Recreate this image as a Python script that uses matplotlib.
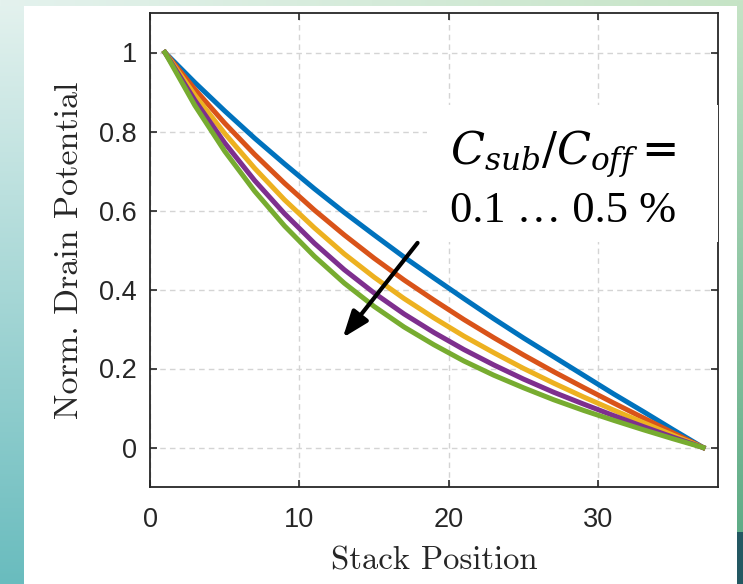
import numpy as np
import matplotlib
matplotlib.use("Agg")
import matplotlib.pyplot as plt
from matplotlib.patches import Rectangle
from matplotlib.ticker import FormatStrFormatter

stack_pos = [1, 3, 5, 7, 9, 11, 13, 15, 17, 19, 21, 23, 25, 27, 29, 31, 33, 35, 37]
# normalized drain potential, Csub/Coff = 0.1 ... 0.5 %
pot_01 = [1, 0.924, 0.852, 0.783, 0.718, 0.655, 0.595, 0.538, 0.482, 0.429,
          0.377, 0.326, 0.277, 0.230, 0.183, 0.136, 0.091, 0.045, 0]
pot_02 = [1, 0.907, 0.821, 0.742, 0.669, 0.601, 0.538, 0.479, 0.424, 0.373,
          0.324, 0.278, 0.234, 0.192, 0.152, 0.113, 0.075, 0.037, 0]
pot_03 = [1, 0.892, 0.795, 0.707, 0.627, 0.556, 0.490, 0.431, 0.377, 0.328,
          0.282, 0.240, 0.200, 0.163, 0.128, 0.095, 0.063, 0.031, 0]
pot_04 = [1, 0.879, 0.771, 0.676, 0.592, 0.517, 0.450, 0.391, 0.338, 0.291,
          0.248, 0.209, 0.173, 0.140, 0.110, 0.081, 0.053, 0.026, 0]
pot_05 = [1, 0.866, 0.750, 0.649, 0.561, 0.484, 0.416, 0.357, 0.305, 0.260,
          0.219, 0.183, 0.151, 0.121, 0.094, 0.069, 0.045, 0.022, 0]

series = [pot_01, pot_02, pot_03, pot_04, pot_05]
colors = ["#0072BD", "#D95319", "#EDB120", "#7E2F8E", "#77AC30"]

xticks = [0, 10, 20, 30]
yticks = [0, 0.2, 0.4, 0.6, 0.8, 1]

W, H = 743, 584
fig = plt.figure(figsize=(W / 100, H / 100), dpi=100)

# slide background: teal strip left, light strip top, green strip right
bg = np.ones((H, W, 3))
t = np.linspace(0, 1, H)[:, None]
left_top = np.array([228, 242, 238]) / 255
left_bot = np.array([105, 188, 190]) / 255
bg[:, :24] = (left_top * (1 - t) + left_bot * t)[:, None, :]
s = np.linspace(0, 1, W)[:, None]
bg[:6, :] = (np.array([228, 242, 238]) / 255 * (1 - s) + np.array([198, 228, 198]) / 255 * s)[None, :, :]
rt = np.linspace(0, 1, 532)[:, None]
bg[:532, 737:] = (np.array([198, 228, 198]) / 255 * (1 - rt) + np.array([95, 172, 135]) / 255 * rt)[:, None, :]
bg[532:, 737:] = np.array([35, 88, 98]) / 255
ax_bg = fig.add_axes([0, 0, 1, 1], zorder=-10)
ax_bg.imshow(bg, aspect="auto", extent=[0, 1, 0, 1])
ax_bg.axis("off")

ax = fig.add_axes([150 / W, (H - 487) / H, 568 / W, 474 / H])
for y, c in zip(series, colors):
    ax.plot(stack_pos, y, color=c, lw=3.6, zorder=3)

ax.annotate("", xy=(12.9, 0.278), xytext=(17.9, 0.518),
            arrowprops=dict(arrowstyle="-|>,head_length=0.8,head_width=0.3",
                            lw=3, color="k", mutation_scale=20,
                            shrinkA=0, shrinkB=0), zorder=4)

ax.set_xlim(0, 38)
ax.set_ylim(-0.1, 1.1)
ax.set_xticks(xticks)
ax.set_yticks(yticks)
ax.yaxis.set_major_formatter(FormatStrFormatter("%g"))
ax.grid(True, color="#d4d4d4", linestyle=(0, (4, 3)), linewidth=1.0)
ax.set_axisbelow(True)
for sp in ax.spines.values():
    sp.set_color("#262626")
    sp.set_linewidth(1.3)
ax.tick_params(direction="in", length=5, width=1.2, top=True, right=True,
               color="#262626", labelcolor="#262626", labelsize=19.5)
ax.tick_params(axis="x", pad=14.5)
ax.tick_params(axis="y", pad=9.4)
for lab in ax.get_xticklabels() + ax.get_yticklabels():
    lab.set_fontfamily("Liberation Sans")

ax.text(0.5, (487 - 570) / 474, "Stack Position", transform=ax.transAxes,
        ha="center", va="baseline", fontfamily="cmr10", fontsize=23.5,
        color="#262626")
ax.text((78 - 150) / 568, 0.5, "Norm. Drain Potential", transform=ax.transAxes,
        ha="center", va="baseline", rotation=90, rotation_mode="anchor",
        fontfamily="cmr10", fontsize=24.5, color="#262626")

# white text box over the upper right of the plot
box = Rectangle((427 / W, 1 - 242 / H), 291 / W, 137 / H, transform=fig.transFigure,
                facecolor="white", edgecolor="none", zorder=5)
fig.add_artist(box)
fig.text(450 / W, 1 - 165 / H, r"$C_{sub}/C_{off} =$", va="baseline",
         math_fontfamily="dejavuserif", fontsize=32, zorder=6)
fig.text(450 / W, 1 - 222 / H, "0.1 \u2026 0.5 %", va="baseline",
         fontfamily="Liberation Serif", fontsize=32, zorder=6)

fig.savefig("out.png", dpi=100)
